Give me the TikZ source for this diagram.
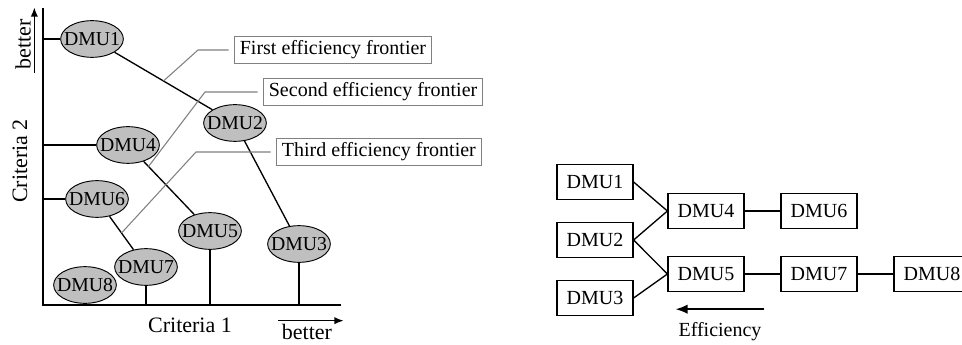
\documentclass[tikz,border=0pt]{standalone}
\usepackage{fontspec}
\setmainfont{Liberation Serif}
\usetikzlibrary{shapes.geometric,calc,arrows.meta}

\newcommand{\fsz}[1]{\fontsize{#1}{#1}\selectfont}

\begin{document}
\begin{tikzpicture}[x=0.75pt,y=-0.75pt,
        dmu/.style={ellipse, draw, fill=gray!50, line width=0.7pt, minimum width=47pt, minimum height=27.5pt, inner sep=0pt, font=\fsz{14.8pt}},
        dmubox/.style={rectangle, draw, line width=0.9pt, minimum width=57pt, minimum height=26pt, inner sep=0pt, font=\fsz{15pt}},
        frontier/.style={draw=gray, line width=0.8pt, inner xsep=4pt, inner ysep=3pt, anchor=west, font=\fsz{15pt}},
        leader/.style={gray, line width=0.8pt, shorten >=4pt},
        axislbl/.style={inner sep=2pt, font=\fsz{16.5pt}},
        axis/.style={line width=1.2pt},
        link/.style={line width=1pt},
        better/.style={-{Latex[length=7pt,width=5.5pt]}, line width=1.1pt}]
        \useasboundingbox (0,0) rectangle (962,345);

        % left: criteria plane
        \coordinate (o) at (43,305);
        \coordinate (ytop) at (43,8);
        \coordinate (xend) at (341,305);
        \draw[axis] (ytop) -- (o) -- (xend);

        \node[dmu] (d1) at (92,39) {\makebox[0pt]{DMU1}};
        \node[dmu] (d2) at (235,123) {\makebox[0pt]{DMU2}};
        \node[dmu] (d3) at (299,244) {\makebox[0pt]{DMU3}};
        \node[dmu] (d4) at (128,145) {\makebox[0pt]{DMU4}};
        \node[dmu] (d5) at (210,231) {\makebox[0pt]{DMU5}};
        \node[dmu] (d6) at (97,199) {\makebox[0pt]{DMU6}};
        \node[dmu] (d7) at (146,267) {\makebox[0pt]{DMU7}};
        \node[dmu] (d8) at (85,285) {\makebox[0pt]{DMU8}};

        \draw[axis] (d1 -| o) -- (d1.west);
        \draw[axis] (d4 -| o) -- (d4.west);
        \draw[axis] (d6 -| o) -- (d6.west);
        \draw[axis] (d7 |- o) -- (d7.south);
        \draw[axis] (d5 |- o) -- (d5.south);
        \draw[axis] (d3 |- o) -- (d3.south);

        \draw[link] (d1) -- (d2) -- (d3);
        \draw[link] (d4) -- (d5);
        \draw[link] (d6) -- (d7);

        \node[frontier] (f1) at (234,50) {First efficiency frontier};
        \node[frontier] (f2) at (263,92) {Second efficiency frontier};
        \node[frontier] (f3) at (276,152) {Third efficiency frontier};
        \draw[leader] ($(d1)!0.5!(d2)$) -- ($(f1.west)+(-36,0)$) -- (f1.west);
        \draw[leader] ($(d4)!0.25!(d5)$) -- ($(f2.west)+(-58,0)$) -- (f2.west);
        \draw[leader] ($(d6)!0.5!(d7)$) -- ($(f3.west)+(-80,0)$) -- (f3.west);

        \node[axislbl, rotate=90] (c2) at (20,161) {Criteria 2};
        \node[axislbl] (c1) at (190,325) {Criteria 1};
        \node[axislbl, rotate=90, inner sep=2.5pt] (bety) at (23,44) {better};
        \node[axislbl, inner sep=2.5pt] (betx) at (307,332) {better};
        \draw[better, shorten >=-6pt] (bety.south west) -- (bety.south east);
        \draw[better, shorten >=-6pt] (betx.north west) -- (betx.north east);

        % right: ranking of the frontiers
        \node[dmubox] (r1) at (595,182) {DMU1};
        \node[dmubox] (r2) at (595,240) {DMU2};
        \node[dmubox] (r3) at (595,298) {DMU3};
        \node[dmubox] (r4) at (706,211) {DMU4};
        \node[dmubox] (r6) at (819,211) {DMU6};
        \node[dmubox] (r5) at (706,274) {DMU5};
        \node[dmubox] (r7) at (819,274) {DMU7};
        \node[dmubox] (r8) at (932,274) {DMU8};

        \draw[link] (r1.east) -- (r4.west) -- (r2.east) -- (r5.west) -- (r3.east);
        \draw[link] (r4) -- (r6);
        \draw[link] (r5) -- (r7) -- (r8);

        \node[inner sep=2pt, font=\fsz{15pt}] (eff) at (720,332) {Efficiency};
        \draw[better, -{Latex[length=9pt,width=7pt]}] ([yshift=8pt]eff.north east) -- ([yshift=8pt]eff.north west);
    \end{tikzpicture}
\end{document}
